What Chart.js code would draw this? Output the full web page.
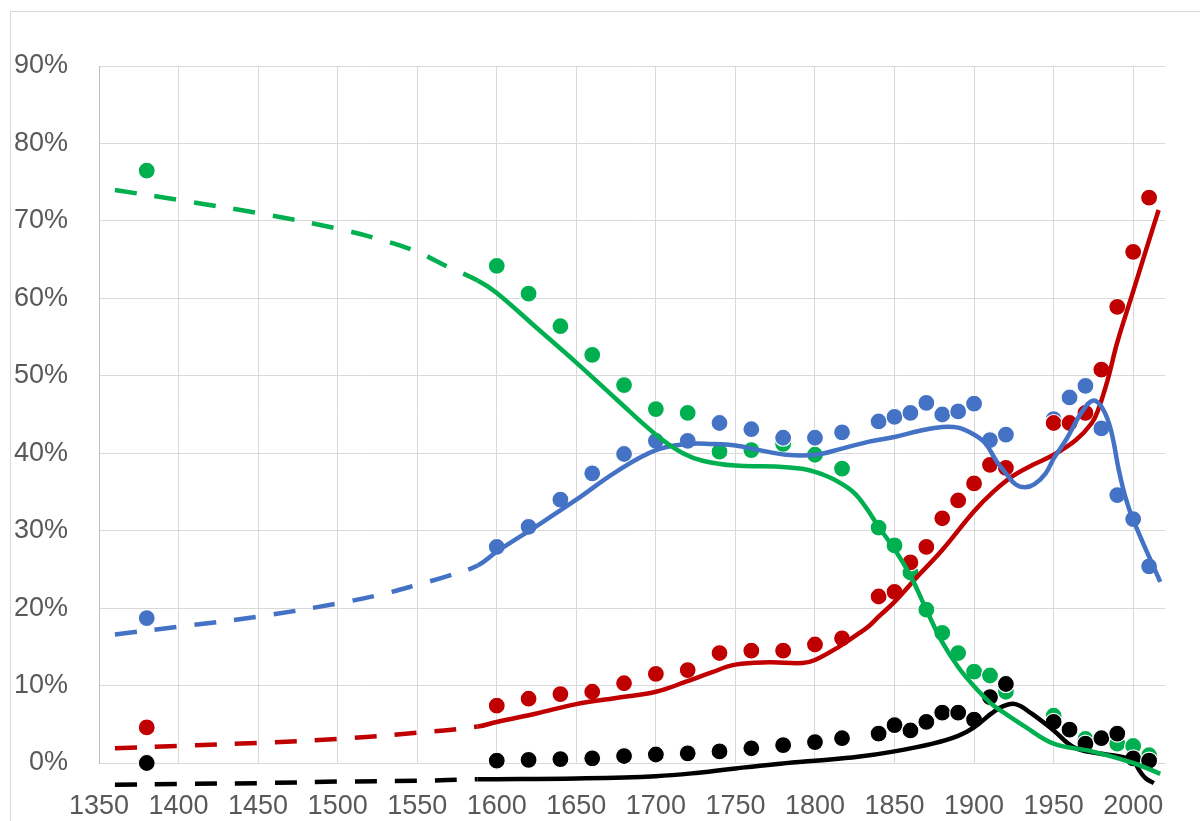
<!DOCTYPE html>
<html>
<head>
<meta charset="utf-8">
<script src="https://cdn.jsdelivr.net/npm/chart.js@4.4.1/dist/chart.umd.min.js"></script>
<style>
  html, body { margin: 0; padding: 0; background: #fff; overflow: hidden; }
  #wrap { position: relative; width: 1200px; height: 821px; }
  #frame { position: absolute; left: 10px; top: 11px; width: 1300px; height: 1000px;
           border: 1px solid #d9d9d9; box-sizing: border-box; }
  canvas { position: absolute; left: 0; top: 0; }
</style>
</head>
<body>
<div id="wrap">
  <div id="frame"></div>
  <canvas id="c" width="1200" height="821"></canvas>
</div>
<script>
// Observation years of the plotted shares
const years = [1380, 1600, 1620, 1640, 1660, 1680, 1700, 1720, 1740, 1760, 1780, 1800, 1817,
               1840, 1850, 1860, 1870, 1880, 1890, 1900, 1910, 1920,
               1950, 1960, 1970, 1980, 1990, 2000, 2010];

// Shares in percent per series
const greenShare = [76.5, 64.2, 60.6, 56.4, 52.7, 48.8, 45.7, 45.2, 40.2, 40.4, 41.2, 39.8, 38.0,
                    30.4, 28.1, 24.6, 19.8, 16.8, 14.2, 11.8, 11.3, 9.2,
                    6.1, 4.4, 3.1, 3.1, 2.5, 2.2, 1.0];
const blueShare  = [18.7, 27.9, 30.5, 34.0, 37.4, 39.9, 41.6, 41.6, 43.9, 43.1, 42.0, 42.0, 42.7,
                    44.1, 44.7, 45.2, 46.5, 45.0, 45.4, 46.4, 41.7, 42.4,
                    44.4, 47.2, 48.7, 43.2, 34.6, 31.5, 25.4];
const redShare   = [4.6, 7.4, 8.3, 8.9, 9.2, 10.3, 11.5, 12.0, 14.2, 14.5, 14.5, 15.3, 16.1,
                    21.5, 22.1, 25.9, 27.9, 31.6, 33.9, 36.1, 38.5, 38.1,
                    43.9, 43.9, 45.2, 50.8, 58.9, 66.0, 73.0];
const blackShare = [0.0, 0.3, 0.4, 0.5, 0.6, 0.9, 1.1, 1.25, 1.5, 1.9, 2.3, 2.7, 3.2,
                    3.8, 4.9, 4.2, 5.3, 6.5, 6.5, 5.6, 8.5, 10.2,
                    5.3, 4.3, 2.5, 3.2, 3.8, 0.6, 0.3];

// Smoothed trend curves: early part (drawn dashed, up to 1588) and later part (solid)
const greenTrendEarlyX = [1360, 1400, 1450, 1500, 1530, 1550, 1570];
const greenTrendEarlyY = [74.0, 72.7, 71.0, 69.0, 67.4, 66.0, 64.0];
const greenTrendX = [1588, 1600, 1625, 1650, 1675, 1700, 1717, 1730, 1750, 1775, 1792, 1800, 1812, 1824, 1832,
                     1840, 1850, 1860, 1870, 1880, 1890, 1900, 1910, 1918, 1932, 1950, 1974, 2000, 2017];
const greenTrendY = [62.3, 60.7, 56.2, 51.7, 47.0, 42.4, 40.0, 39.0, 38.4, 38.3, 38.0, 37.6, 36.6, 35.0, 33.0,
                     30.5, 27.6, 24.2, 19.8, 15.6, 12.4, 9.9, 7.8, 6.6, 4.7, 2.5, 1.5, 0.0, -1.4];

const blueTrendEarlyX = [1360, 1400, 1450, 1500, 1530, 1550, 1570];
const blueTrendEarlyY = [16.6, 17.6, 18.9, 20.6, 21.9, 23.0, 24.2];
const blueTrendX = [1588, 1600, 1625, 1650, 1675, 1700, 1720, 1735, 1750, 1765, 1782, 1800, 1817, 1834, 1850,
                    1866, 1880, 1890, 1900, 1907, 1914, 1920, 1926, 1932, 1938, 1945, 1950, 1958, 1968,
                    1975, 1981, 1986, 1991, 1995, 2000, 2017];
const blueTrendY = [25.5, 27.3, 30.6, 34.0, 37.6, 40.4, 41.2, 41.2, 41.0, 40.4, 39.8, 39.8, 40.6, 41.5, 42.1,
                    42.9, 43.4, 43.3, 42.4, 41.3, 39.0, 37.4, 36.0, 35.6, 36.0, 37.4, 39.3, 41.8, 45.4,
                    46.8, 45.7, 43.0, 37.8, 34.4, 31.4, 23.4];

const redTrendEarlyX = [1360, 1400, 1450, 1500, 1550];
const redTrendEarlyY = [1.9, 2.2, 2.6, 3.1, 3.9];
const redTrendX = [1588, 1600, 1625, 1650, 1675, 1700, 1719, 1735, 1750, 1771, 1792, 1800, 1815, 1828, 1834,
                   1840, 1850, 1865, 1880, 1900, 1912, 1924, 1937, 1950, 1964, 1974, 1978, 1984, 1990,
                   2000, 2008, 2016];
const redTrendY = [4.7, 5.3, 6.4, 7.6, 8.4, 9.2, 10.5, 11.7, 12.7, 13.0, 12.9, 13.3, 15.0, 16.8, 17.7,
                   18.9, 20.8, 24.2, 27.5, 32.5, 35.0, 37.0, 38.5, 39.8, 41.7, 43.9, 45.6, 49.5, 54.3,
                   60.9, 66.2, 71.4];

const blackTrendEarlyX = [1360, 1400, 1450, 1500, 1550];
const blackTrendEarlyY = [-2.8, -2.7, -2.6, -2.4, -2.3];
const blackTrendX = [1588, 1600, 1650, 1700, 1727, 1750, 1775, 1800, 1827, 1850, 1874, 1890, 1900, 1911,
                     1918, 1926, 1936, 1950, 1963, 1978, 1987, 1995, 2000, 2004, 2008, 2013];
const blackTrendY = [-2.1, -2.1, -2.0, -1.7, -1.25, -0.7, -0.15, 0.3, 0.8, 1.5, 2.5, 3.5, 4.6, 6.4,
                     7.3, 7.6, 6.4, 4.2, 2.0, 1.25, 1.0, 0.7, 0.3, -1.0, -2.0, -2.6];

const dashedUntil = 1588;

// Axis ticks
const xTicks = [1350, 1400, 1450, 1500, 1550, 1600, 1650, 1700, 1750, 1800, 1850, 1900, 1950, 2000];
const yTicks = [0, 10, 20, 30, 40, 50, 60, 70, 80, 90];

const GREEN = '#00B050', BLUE = '#4472C4', RED = '#C00000', BLACK = '#000000';

const pts = (xs, ys) => xs.map((x, i) => ({ x: x, y: ys[i] }));

function dots(vals, color, order) {
  return {
    data: pts(years, vals), showLine: false, order: order, clip: false,
    pointRadius: 8.5, pointHoverRadius: 8.5,
    pointBackgroundColor: color, pointBorderColor: '#ffffff', pointBorderWidth: 1.2
  };
}
// One continuous curve; segments before the cut-off year are dashed
function trend(earlyX, earlyY, xs, ys, color, order) {
  return {
    data: pts(earlyX, earlyY).concat(pts(xs, ys)), showLine: true, order: order, clip: false,
    borderColor: color, borderWidth: 4.5, borderCapStyle: 'butt', tension: 0.4,
    segment: { borderDash: ctx => (ctx.p1.parsed.x <= dashedUntil ? [22, 18] : []) },
    pointRadius: 0, pointHoverRadius: 0, fill: false
  };
}

const FONT = { family: '"Liberation Sans", Arial, sans-serif', size: 27 };

new Chart(document.getElementById('c'), {
  type: 'scatter',
  data: {
    datasets: [
      trend(greenTrendEarlyX, greenTrendEarlyY, greenTrendX, greenTrendY, GREEN, 1),
      trend(blueTrendEarlyX, blueTrendEarlyY, blueTrendX, blueTrendY, BLUE, 1),
      trend(redTrendEarlyX, redTrendEarlyY, redTrendX, redTrendY, RED, 1),
      trend(blackTrendEarlyX, blackTrendEarlyY, blackTrendX, blackTrendY, BLACK, 1),
      dots(blackShare, BLACK, 5),
      dots(redShare, RED, 6),
      dots(blueShare, BLUE, 7),
      dots(greenShare, GREEN, 8)
    ]
  },
  options: {
    responsive: false,
    animation: false,
    devicePixelRatio: 1,
    layout: { padding: { top: 66, right: 35, left: 0, bottom: 0 } },
    plugins: { legend: { display: false }, tooltip: { enabled: false } },
    scales: {
      x: {
        type: 'linear', min: 1350, max: 2020,
        afterFit: s => { s.height = 58; },
        afterBuildTicks: s => { s.ticks = xTicks.map(v => ({ value: v })); },
        ticks: { includeBounds: false, padding: 27, color: '#595959', font: FONT, maxRotation: 0,
                 autoSkip: false, callback: v => String(v) },
        grid: { color: '#d9d9d9', lineWidth: 1, drawTicks: false },
        border: { display: true, color: '#d9d9d9', width: 1 }
      },
      y: {
        type: 'linear', min: 0, max: 90,
        afterFit: s => { s.width = 99; },
        afterBuildTicks: s => { s.ticks = yTicks.map(v => ({ value: v })); },
        ticks: { includeBounds: false, padding: 31, color: '#595959', font: FONT,
                 callback: v => v + '%' },
        grid: { color: '#d9d9d9', lineWidth: 1, drawTicks: false },
        border: { display: true, color: '#bfbfbf', width: 1 }
      }
    }
  }
});
</script>
</body>
</html>
